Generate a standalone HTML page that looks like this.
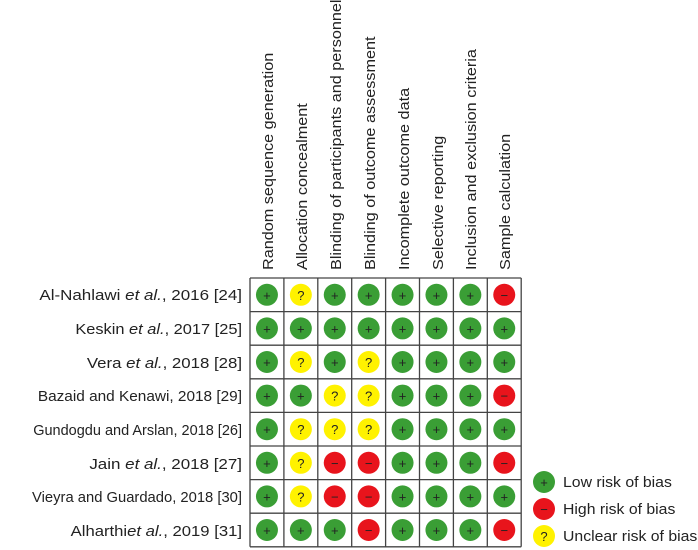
<!DOCTYPE html>
<html><head><meta charset="utf-8"><style>
html,body{margin:0;padding:0;background:#fff;}
svg{display:block;font-family:"Liberation Sans",sans-serif;}
</style></head><body>
<svg width="698" height="550" viewBox="0 0 698 550" xmlns="http://www.w3.org/2000/svg">
<g font-size="14.5" fill="#222">
<text transform="translate(273,270) rotate(-90) scale(1.12,1)">Random sequence generation</text>
<text transform="translate(307,270) rotate(-90) scale(1.12,1)">Allocation concealment</text>
<text transform="translate(341,270) rotate(-90) scale(1.12,1)">Blinding of participants and personnel</text>
<text transform="translate(375,270) rotate(-90) scale(1.12,1)">Blinding of outcome assessment</text>
<text transform="translate(409,270) rotate(-90) scale(1.12,1)">Incomplete outcome data</text>
<text transform="translate(443,270) rotate(-90) scale(1.12,1)">Selective reporting</text>
<text transform="translate(476,270) rotate(-90) scale(1.12,1)">Inclusion and exclusion criteria</text>
<text transform="translate(510,270) rotate(-90) scale(1.12,1)">Sample calculation</text>
</g>
<g font-size="14.5" fill="#222" text-anchor="end">
<text transform="translate(242,300) scale(1.17,1)">Al-Nahlawi <tspan font-style="italic">et al.</tspan>, 2016 [24]</text>
<text transform="translate(242,334) scale(1.13,1)">Keskin <tspan font-style="italic">et al.</tspan>, 2017 [25]</text>
<text transform="translate(242,368) scale(1.16,1)">Vera <tspan font-style="italic">et al.</tspan>, 2018 [28]</text>
<text transform="translate(242,401) scale(1.06,1)">Bazaid and Kenawi, 2018 [29]</text>
<text transform="translate(242,435) scale(1.0,1)">Gundogdu and Arslan, 2018 [26]</text>
<text transform="translate(242,469) scale(1.17,1)">Jain <tspan font-style="italic">et al.</tspan>, 2018 [27]</text>
<text transform="translate(242,502) scale(1.02,1)">Vieyra and Guardado, 2018 [30]</text>
<text transform="translate(242,536) scale(1.15,1)">Alharthi<tspan font-style="italic">et al.</tspan>, 2019 [31]</text>
</g>
<g id="grid" stroke="#444" stroke-width="1.3" fill="none"></g>
<g id="cells"></g>
<g font-size="14.5" fill="#222">
<circle cx="544" cy="482" r="11" fill="#3a9e35"/><text x="544" y="487" text-anchor="middle" font-size="13">+</text>
<circle cx="544" cy="509" r="11" fill="#e8141c"/><text x="544" y="514" text-anchor="middle" font-size="13">−</text>
<circle cx="544" cy="536" r="11" fill="#fff200"/><text x="544" y="541" text-anchor="middle" font-size="13">?</text>
<text transform="translate(563,487) scale(1.09,1)">Low risk of bias</text>
<text transform="translate(563,514) scale(1.09,1)">High risk of bias</text>
<text transform="translate(563,541) scale(1.09,1)">Unclear risk of bias</text>
</g>
<script>
var d=["+?+++++-","++++++++","+?+?++++","++??+++-","+???++++","+?--+++-","+?--++++","+++-+++-"];
var x0=250,y0=278,cw=33.9,rh=33.6,ns="http://www.w3.org/2000/svg";
var g=document.getElementById("grid"),c=document.getElementById("cells");
for(var i=0;i<=8;i++){
 var l=document.createElementNS(ns,"line");l.setAttribute("x1",x0+i*cw);l.setAttribute("x2",x0+i*cw);l.setAttribute("y1",y0);l.setAttribute("y2",y0+8*rh);g.appendChild(l);
 l=document.createElementNS(ns,"line");l.setAttribute("y1",y0+i*rh);l.setAttribute("y2",y0+i*rh);l.setAttribute("x1",x0);l.setAttribute("x2",x0+8*cw);g.appendChild(l);
}
var col={"+":"#3a9e35","-":"#e8141c","?":"#fff200"},sym={"+":"+","-":"−","?":"?"};
for(var r=0;r<8;r++)for(var k=0;k<8;k++){
 var ch=d[r][k],cx=x0+(k+.5)*cw,cy=y0+(r+.5)*rh;
 var e=document.createElementNS(ns,"circle");e.setAttribute("cx",cx);e.setAttribute("cy",cy);e.setAttribute("r",11);e.setAttribute("fill",col[ch]);c.appendChild(e);
 var t=document.createElementNS(ns,"text");t.setAttribute("x",cx);t.setAttribute("y",cy+5);t.setAttribute("text-anchor","middle");t.setAttribute("font-size","13");t.setAttribute("fill","#222");t.textContent=sym[ch];c.appendChild(t);
}
</script>
</svg>
</body></html>
